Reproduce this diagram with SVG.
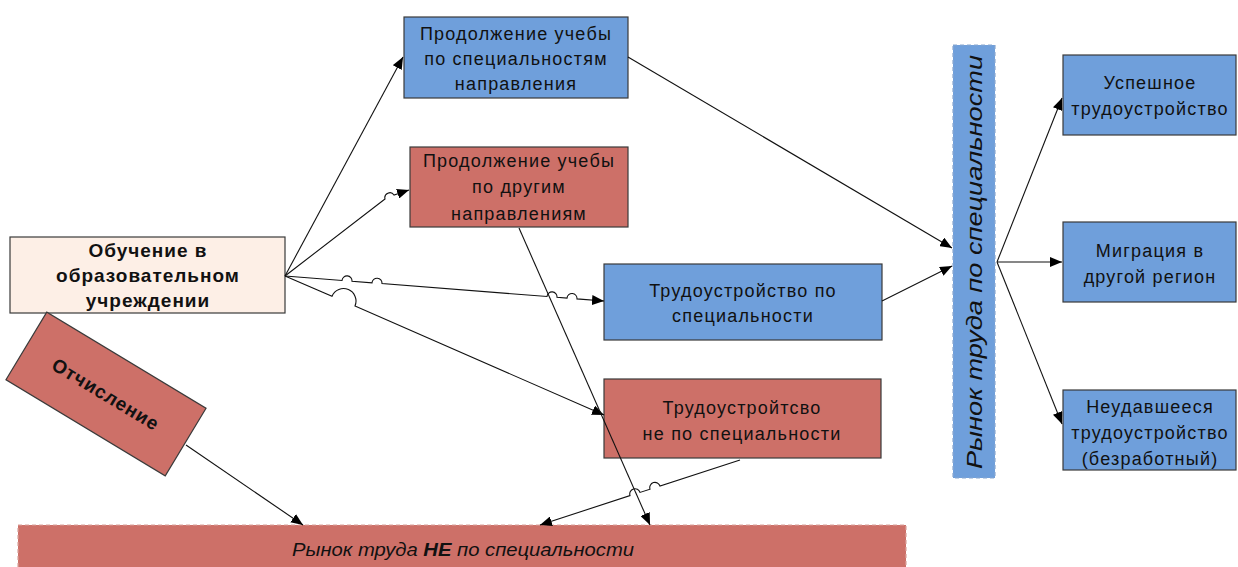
<svg xmlns="http://www.w3.org/2000/svg" width="1238" height="567" viewBox="0 0 1238 567">
<defs>
<marker id="arr" markerWidth="13" markerHeight="10" refX="12" refY="5" orient="auto" markerUnits="userSpaceOnUse">
<path d="M0,0 L12,5 L0,10 Z" fill="#000"/>
</marker>
<style>
.blue{fill:#6f9fdb;stroke:#3a3a3a;stroke-width:1.2}
.red{fill:#cd7068;stroke:#3a3a3a;stroke-width:1.2}
.light{fill:#fdefe6;stroke:#3a3a3a;stroke-width:1.2}
.t{font-family:"Liberation Sans",Arial,sans-serif;font-size:18px;letter-spacing:1.2px;fill:#111;text-anchor:middle}
.b{font-weight:bold;font-size:19px;letter-spacing:1px}
.c{fill:none;stroke:#111;stroke-width:1.1;marker-end:url(#arr)}
</style>
</defs>
<rect width="1238" height="567" fill="#fff"/>
<g id="n-study-spec">
<rect class="blue" x="404" y="17" width="224" height="81"/>
<text class="t" x="516" y="40">Продолжение учебы</text>
<text class="t" x="516" y="65">по специальностям</text>
<text class="t" x="516" y="90">направления</text>
</g>
<g id="n-study-other">
<rect class="red" x="410" y="147" width="218" height="80"/>
<text class="t" x="519" y="167">Продолжение учебы</text>
<text class="t" x="519" y="193">по другим</text>
<text class="t" x="519" y="220">направлениям</text>
</g>
<g id="n-edu">
<rect class="light" x="10" y="237" width="275" height="76"/>
<text class="t b" x="148" y="257">Обучение в</text>
<text class="t b" x="148" y="282">образовательном</text>
<text class="t b" x="148" y="307">учреждении</text>
</g>
<g id="n-job-spec">
<rect class="blue" x="604" y="264" width="278" height="76"/>
<text class="t" x="743" y="297">Трудоустройство по</text>
<text class="t" x="743" y="322">специальности</text>
</g>
<g id="n-job-nonspec">
<rect class="red" x="604" y="379" width="277" height="79"/>
<text class="t" x="742" y="414">Трудоустройтсво</text>
<text class="t" x="742" y="440">не по специальности</text>
</g>
<g id="n-expel" transform="translate(106 394) rotate(31.1)">
<rect class="red" x="-93" y="-39.5" width="186" height="79"/>
<text class="t b" x="0" y="7" textLength="122" lengthAdjust="spacingAndGlyphs">Отчисление</text>
</g>
<g id="n-market-spec">
<rect x="953" y="45" width="42" height="433" fill="#6f9fdb" stroke="#8aa8d0" stroke-width="1.2" stroke-dasharray="4 3"/>
<text class="t" transform="translate(982 262) rotate(-90)" x="0" y="0" style="font-size:22px;font-style:italic;letter-spacing:0" textLength="414" lengthAdjust="spacingAndGlyphs">Рынок труда по специальности</text>
</g>
<g id="n-success">
<rect class="blue" x="1063" y="55" width="173" height="80"/>
<text class="t" x="1150" y="89">Успешное</text>
<text class="t" x="1150" y="115">трудоустройство</text>
</g>
<g id="n-migration">
<rect class="blue" x="1063" y="222" width="173" height="80"/>
<text class="t" x="1150" y="257">Миграция в</text>
<text class="t" x="1150" y="283">другой регион</text>
</g>
<g id="n-unemployed">
<rect class="blue" x="1063" y="390" width="173" height="80"/>
<text class="t" x="1150" y="413">Неудавшееся</text>
<text class="t" x="1150" y="439">трудоустройство</text>
<text class="t" x="1150" y="465">(безработный)</text>
</g>
<g id="n-market-nonspec">
<rect x="18" y="525" width="888" height="50" fill="#cd7068" stroke="#d9a29c" stroke-width="1.2" stroke-dasharray="4 3"/>
<text class="t" x="463" y="556" style="font-size:18px;font-style:italic;letter-spacing:0" textLength="342" lengthAdjust="spacingAndGlyphs">Рынок труда <tspan font-weight="bold">НЕ</tspan> по специальности</text>
</g>
<g id="connectors">
<path class="c" d="M285 276 L403 57"/>
<path class="c" d="M285 276 L385 199 A5 5 0 0 1 394 195 L409 190"/>
<path class="c" d="M285 276 L342 280.5 A5 5 0 0 1 352 281.3 L372 282.8 A5 5 0 0 1 382 283.6 L547 296.5 A5 5 0 0 1 557 297.3 L567 298.1 A5 5 0 0 1 577 298.9 L604 301"/>
<path class="c" d="M285 276 L332 296.2 A12 12 0 0 1 355 306 L604 415"/>
<path class="c" d="M628 57 L952 248"/>
<path class="c" d="M882 301 L952 266"/>
<path class="c" d="M997 262 L1062 98"/>
<path class="c" d="M997 262 L1062 262"/>
<path class="c" d="M997 262 L1062 424"/>
<path class="c" d="M186 445 L303 525"/>
<path class="c" d="M519 228 L650 525"/>
<path class="c" d="M740 460 L660 486 A5 5 0 0 0 650 489.2 L640 492.4 A5 5 0 0 0 630 495.6 L540 525"/>
</g>
</svg>
